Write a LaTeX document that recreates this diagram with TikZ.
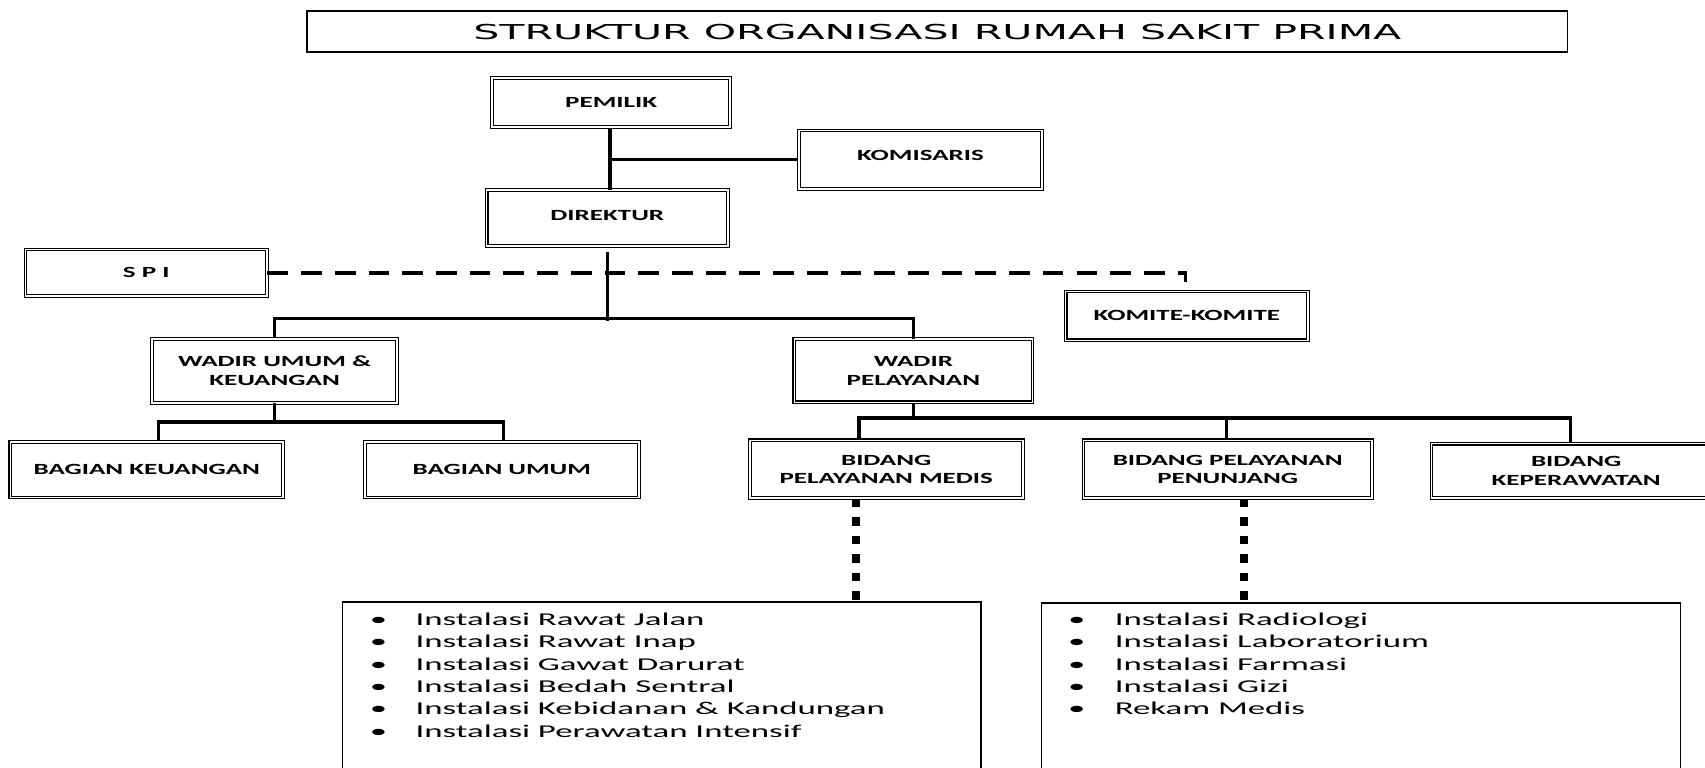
\documentclass[tikz,border=0pt]{standalone}
\usepackage{fontspec}
\setmainfont{Carlito}
\newfontfamily\titlefont{DejaVu Sans}[FakeStretch=2.0]
\newfontfamily\boxfont{Carlito}[FakeStretch=1.74]
\newfontfamily\listfont{Carlito}[FakeStretch=1.93]
\usetikzlibrary{calc}
\tikzset{
  orgbox/.style={draw=black, line width=1pt, double=white, double distance=1.5pt,
    inner sep=0pt, align=center, font=\boxfont\bfseries\fontsize{14.3}{17}\selectfont},
  titlebox/.style={draw=black, line width=1.3pt, inner sep=0pt,
    font=\titlefont\fontsize{18.9}{22}\selectfont},
  listbox/.style={draw=black, line width=1.3pt, inner sep=0pt},
  listtext/.style={inner sep=0pt, align=left, font=\listfont\fontsize{16.6}{20.6}\selectfont},
  conn/.style={draw=black, line width=3pt},
  spidash/.style={draw=black, line width=3pt, dash pattern=on 19pt off 12pt},
  thickdash/.style={draw=black, line width=7pt, dash pattern=on 8pt off 9pt}
}
\begin{document}
\begin{tikzpicture}[x=1pt, y=-1pt]
\clip (0,0) rectangle (1568,706);
\useasboundingbox (0,0) rectangle (1568,706);
\fill[white] (0,0) rectangle (1568,706);

\node[titlebox, minimum width=1159pt, minimum height=38pt] (title) at (862,29) {STRUKTUR ORGANISASI RUMAH SAKIT PRIMA};

\node[orgbox, minimum width=219pt, minimum height=45pt] (pemilik) at (562,94.5) {PEMILIK};
\node[orgbox, minimum width=224pt, minimum height=54pt, text depth=8pt] (komisaris) at (846.5,147) {KOMISARIS};
\node[orgbox, minimum width=222pt, minimum height=51pt, text depth=4pt] (direktur) at (558.5,200.5) {DIREKTUR};
\node[orgbox, minimum width=222pt, minimum height=43pt] (spi) at (134.5,251) {S P I};
\node[orgbox, minimum width=223pt, minimum height=45pt] (komite) at (1091.5,290.5) {KOMITE-KOMITE};
\node[orgbox, minimum width=225pt, minimum height=59pt] (wum) at (252.5,341) {WADIR UMUM \&\\KEUANGAN};
\node[orgbox, minimum width=219pt, minimum height=58pt] (wpel) at (840,341) {WADIR\\PELAYANAN};
\node[orgbox, minimum width=251pt, minimum height=51pt] (bk) at (135,432) {BAGIAN KEUANGAN};
\node[orgbox, minimum width=252pt, minimum height=51pt] (bu) at (461.5,432) {BAGIAN UMUM};
\node[orgbox, minimum width=251pt, minimum height=53pt] (bmed) at (815,431.5) {BIDANG\\PELAYANAN MEDIS};
\node[orgbox, minimum width=265pt, minimum height=53pt] (bpen) at (1129,431.5) {BIDANG PELAYANAN\\PENUNJANG};
\node[orgbox, minimum width=266pt, minimum height=50pt, anchor=west] (bkep) at (1316,433) {BIDANG\\KEPERAWATAN};

\node[listbox, minimum width=587pt, minimum height=200pt, anchor=north west] (medbox) at (314.5,553) {};
\node[listbox, minimum width=588pt, minimum height=200pt, anchor=north west] (penbox) at (957,554) {};

\node[listtext, anchor=base west] (medlist) at (340,575) {\begin{tabular}[t]{@{}l@{}}
\makebox[42pt][l]{•}Instalasi Rawat Jalan\\
\makebox[42pt][l]{•}Instalasi Rawat Inap\\
\makebox[42pt][l]{•}Instalasi Gawat Darurat\\
\makebox[42pt][l]{•}Instalasi Bedah Sentral\\
\makebox[42pt][l]{•}Instalasi Kebidanan \& Kandungan\\
\makebox[42pt][l]{•}Instalasi Perawatan Intensif
\end{tabular}};
\node[listtext, anchor=base west] (penlist) at (982,575) {\begin{tabular}[t]{@{}l@{}}
\makebox[43pt][l]{•}Instalasi Radiologi\\
\makebox[43pt][l]{•}Instalasi Laboratorium\\
\makebox[43pt][l]{•}Instalasi Farmasi\\
\makebox[43pt][l]{•}Instalasi Gizi\\
\makebox[43pt][l]{•}Rekam Medis
\end{tabular}};

% connectors
\draw[conn] ([xshift=-1pt]pemilik.south) -- ([xshift=-1pt]pemilik.south |- direktur.north);
\draw[conn] (komisaris.west) -- ([xshift=-1pt]komisaris.west -| pemilik.south);
\coordinate (dirbar) at ($(direktur.south)+(0,69)$);
\draw[conn] ([yshift=-5pt]direktur.south) -- (dirbar);
\draw[conn] (wum.north) -- ++(0,-18) -| (wpel.north);

\coordinate (kh) at ([xshift=-1.5pt,yshift=8pt]komite.north);
\draw[spidash] (spi.east) -| (kh);

\draw[conn] (wum.south) -- ++(0,18);
\draw[conn] ([xshift=11pt]bk.north) -- ++(0,-18) -| ([xshift=1.5pt]bu.north);

\draw[conn] (wpel.south) -- ++(0,15);
\draw[conn] ([xshift=-25pt]bmed.north) -- ++(0,-20) -| ([xshift=-5pt]bkep.north);
\draw[conn] ([xshift=-1pt]bpen.north) -- ++(0,-20);

\draw[thickdash] ([xshift=-28pt]bmed.south) -- ([xshift=-28pt]bmed.south |- medbox.north);
\draw[thickdash] ([xshift=15pt]bpen.south) -- ([xshift=15pt]bpen.south |- penbox.north);
\end{tikzpicture}
\end{document}
